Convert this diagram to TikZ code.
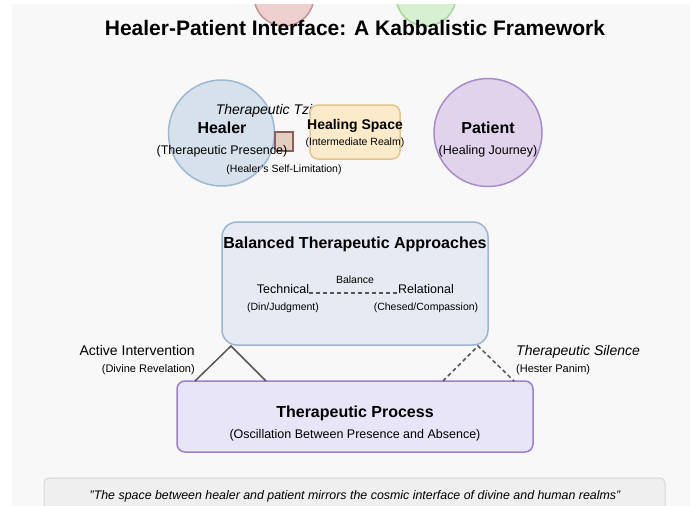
\documentclass[tikz,border=0pt]{standalone}
\usepackage{fontspec}
\setmainfont{Liberation Sans}
\usetikzlibrary{positioning}
\tikzset{>=latex}
\definecolor{pagebg}{HTML}{F8F8F8}
\definecolor{healerfill}{HTML}{D6E1EC}
\definecolor{healerline}{HTML}{9CB8D2}
\definecolor{patientfill}{HTML}{E1D3EB}
\definecolor{patientline}{HTML}{A88BC8}
\definecolor{spacefill}{HTML}{FCEBCB}
\definecolor{spaceline}{HTML}{E2C48C}
\definecolor{tzimfill}{HTML}{E3CDBF}
\definecolor{tzimline}{HTML}{8A5F5B}
\definecolor{redfill}{HTML}{EFD0D0}
\definecolor{redline}{HTML}{C29393}
\definecolor{greenfill}{HTML}{D6F0D1}
\definecolor{greenline}{HTML}{A6D49A}
\definecolor{balfill}{HTML}{E6EBF3}
\definecolor{balline}{HTML}{9DB4D0}
\definecolor{procfill}{HTML}{E7E5F7}
\definecolor{procline}{HTML}{9B7FD6}
\definecolor{quotefill}{HTML}{EFEFEF}
\definecolor{quoteline}{HTML}{D6D6D6}
\definecolor{linkcol}{HTML}{555555}
\newcommand\fsize[1]{\fontsize{#1}{#1}\selectfont}
\tikzset{
  label/.style={inner sep=0pt,anchor=base,text=black},
  realm/.style={circle,line width=1.5pt,minimum size=#1,inner sep=0pt},
  panel/.style={rounded corners=#1,line width=1.5pt,inner sep=0pt},
  link/.style={draw=linkcol,line width=1.5pt}
}

\begin{document}
\begin{tikzpicture}[x=1pt,y=-1pt]
  \useasboundingbox (0,0) rectangle (694,506);
  \fill[pagebg] (12,4) rectangle (690,506);
  \begin{scope}
    \clip (12,4) rectangle (690,506);
    \node[realm=60pt,draw=redline,fill=redfill] (upper) at (284,-4) {};
    \node[realm=60pt,draw=greenline,fill=greenfill] (lower) at (426,-4) {};
  \end{scope}
  \node[label,font=\fsize{21}\bfseries] (title) at (355,35) {Healer-Patient Interface: A Kabbalistic Framework};

  % healer, space and patient
  \node[realm=106pt,draw=healerline,fill=healerfill] (healer) at (221.5,133) {};
  \node[realm=108pt,draw=patientline,fill=patientfill] (patient) at (488,132.5) {};
  \node[label,font=\fsize{14}\itshape] (tzimtzum) at (285,114) {Therapeutic Tzimtzum};
  \node[panel=8pt,draw=spaceline,fill=spacefill,minimum width=90pt,minimum height=54pt] (space) at (355,132) {};
  \node[draw=tzimline,fill=tzimfill,line width=1.2pt,minimum width=18pt,minimum height=19pt,inner sep=0pt] (limit) at (284,141.5) {};
  \node[label,font=\fsize{16}\bfseries] (healername) at (222,133) {Healer};
  \node[label,font=\fsize{12.5}] at (222,154) {(Therapeutic Presence)};
  \node[label,font=\fsize{10.5}] at (284,172) {(Healer's Self-Limitation)};
  \node[label,font=\fsize{14}\bfseries] at (355,129) {Healing Space};
  \node[label,font=\fsize{10.5}] at (355,145) {(Intermediate Realm)};
  \node[label,font=\fsize{16}\bfseries] at (488,133) {Patient};
  \node[label,font=\fsize{12.5}] at (488,154) {(Healing Journey)};

  % balanced approaches
  \node[panel=15pt,draw=balline,fill=balfill,minimum width=266pt,minimum height=123pt] (balance) at (355,283.5) {};
  \node[label,font=\fsize{16}\bfseries] at (355,248) {Balanced Therapeutic Approaches};
  \node[label,font=\fsize{12.5}] (technical) at (283,293) {Technical};
  \node[label,font=\fsize{12.5}] (relational) at (426,293) {Relational};
  \node[label,font=\fsize{10.5}] at (355,283) {Balance};
  \node[label,font=\fsize{10.5}] at (283,310) {(Din/Judgment)};
  \node[label,font=\fsize{10.5}] at (426,310) {(Chesed/Compassion)};
  \draw[link,line width=1.2pt,dash pattern=on 4pt off 3pt] (technical.base east) -- (relational.base west);

  % therapeutic process
  \node[panel=8pt,draw=procline,fill=procfill,minimum width=356pt,minimum height=71pt] (process) at (355,416.5) {};
  \node[label,font=\fsize{16}\bfseries] at (355,417) {Therapeutic Process};
  \node[label,font=\fsize{12.5}] at (355,438) {(Oscillation Between Presence and Absence)};

  \coordinate (active) at (231,346);
  \coordinate (activeL) at (195,381);
  \coordinate (activeR) at (266,381);
  \coordinate (silent) at (478,346);
  \coordinate (silentL) at (443,381);
  \coordinate (silentR) at (514,381);
  \draw[link] (activeL) -- (active) -- (activeR);
  \draw[link,dash pattern=on 4pt off 3pt] (silentL) -- (silent) -- (silentR);
  \node[label,anchor=base east,font=\fsize{14}] at (195,355) {Active Intervention};
  \node[label,anchor=base east,font=\fsize{11}] at (195,372) {(Divine Revelation)};
  \node[label,anchor=base west,font=\fsize{14}\itshape] at (516,355) {Therapeutic Silence};
  \node[label,anchor=base west,font=\fsize{11}] at (516,372) {(Hester Panim)};

  % quote
  \begin{scope}
    \clip (12,4) rectangle (690,506);
    \node[panel=5pt,draw=quoteline,fill=quotefill,line width=1pt,minimum width=621pt,minimum height=42pt] (quote) at (354.5,499) {};
  \end{scope}
  \node[label,font=\fsize{12.4}\itshape] at (355,499) {"The space between healer and patient mirrors the cosmic interface of divine and human realms"};
\end{tikzpicture}
\end{document}
